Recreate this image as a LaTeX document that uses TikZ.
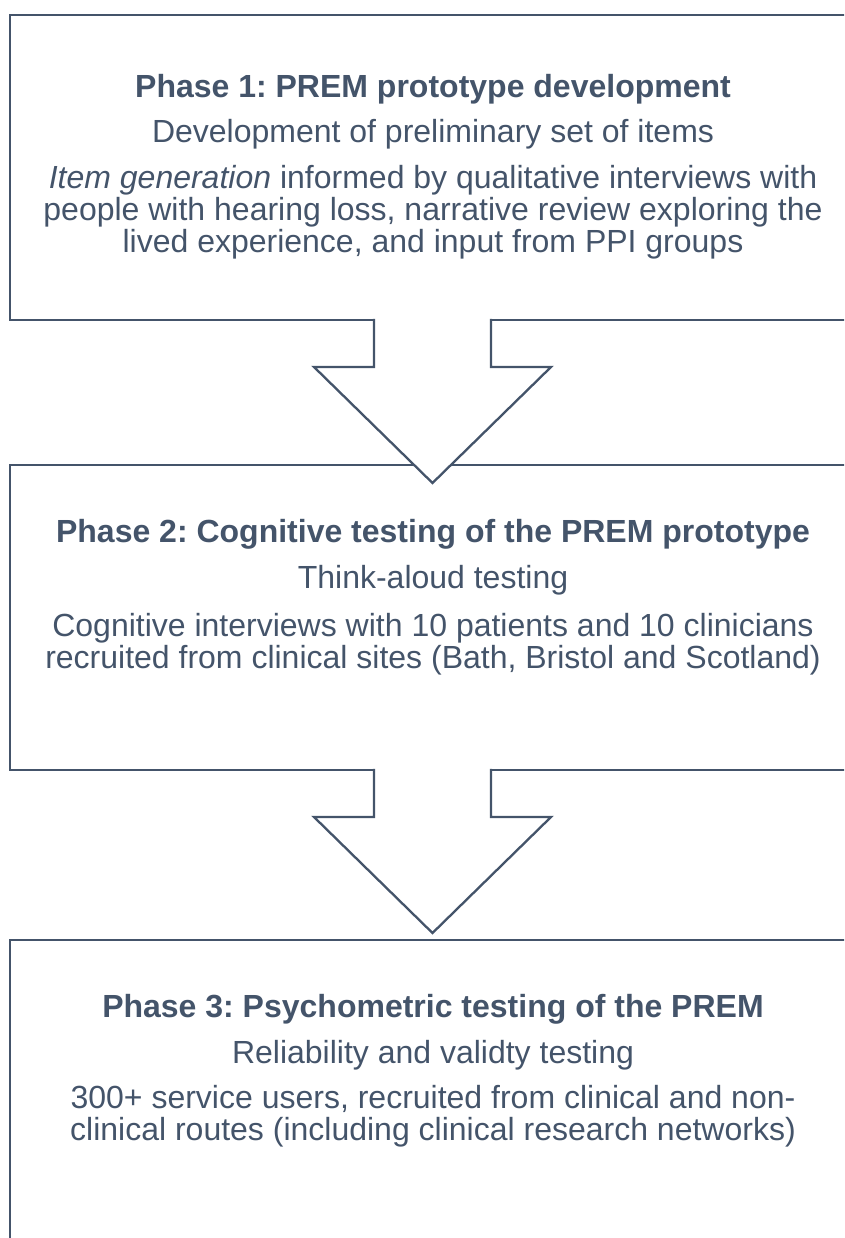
\documentclass[tikz,border=0pt]{standalone}
\usepackage{fontspec}
\setmainfont{Liberation Sans}
\usetikzlibrary{calc}
\definecolor{slate}{HTML}{44546A}
\frenchspacing
\begin{document}
\begin{tikzpicture}[x=1pt,y=-1pt,
  phasebox/.style={draw=slate, line width=2.3pt, minimum width=850pt, minimum height=305pt, inner sep=0pt, outer sep=0pt, anchor=north west},
  txt/.style={text=slate, align=center, inner sep=0pt, anchor=base, font=\fontsize{32}{32}\selectfont},
  ttl/.style={txt, font=\fontsize{32}{32}\selectfont\bfseries},
  arrowline/.style={draw=slate, line width=2.3pt, line join=miter},
]
\useasboundingbox (0,0) rectangle (844,1238);
\clip (0,0) rectangle (844,1238);

% phase boxes (right and bottom edges run off the page)
\node[phasebox] (p1) at (10,15) {};
\node[phasebox] (p2) at (10,465) {};
\node[phasebox, minimum height=400pt] (p3) at (10,940) {};

% block arrows between the phases, open at the top
\coordinate (a1) at ($(p1.south)+(-2.5,0)$);
\coordinate (a2) at ($(p2.south)+(-2.5,0)$);
\foreach \a in {a1,a2}{
  \begin{scope}[shift={(\a)}]
    \fill[white] (-58.5,-2) -- (-58.5,47) -- (-118.5,47) -- (0,163) -- (118.5,47) -- (58.5,47) -- (58.5,-2) -- cycle;
    \draw[arrowline] (-58.5,-1.15) -- (-58.5,47) -- (-118.5,47) -- (0,163) -- (118.5,47) -- (58.5,47) -- (58.5,-1.15);
  \end{scope}
}

% phase 1 (a multi-line node sits on the baseline of its last line)
\node[ttl] (t1) at (433,98) {Phase 1: PREM prototype development};
\node[txt] (s1) at (433,143) {Development of preliminary set of items};
\node[txt] (d1) at (433,253) {\textit{Item generation} informed by qualitative interviews with\\people with hearing loss, narrative review exploring the\\lived experience, and input from PPI groups};

% phase 2
\node[ttl] (t2) at (433,542) {Phase 2: Cognitive testing of the PREM prototype};
\node[txt] (s2) at (433,588) {Think-aloud testing};
\node[txt] (d2) at (433,668) {Cognitive interviews with 10 patients and 10 clinicians\\recruited from clinical sites (Bath, Bristol and Scotland)};

% phase 3
\node[ttl] (t3) at (433,1017) {Phase 3: Psychometric testing of the PREM};
\node[txt] (s3) at (433,1063) {Reliability and validty testing};
\node[txt] (d3) at (433,1140) {300+ service users, recruited from clinical and non-\\clinical routes (including clinical research networks)};
\end{tikzpicture}
\end{document}
